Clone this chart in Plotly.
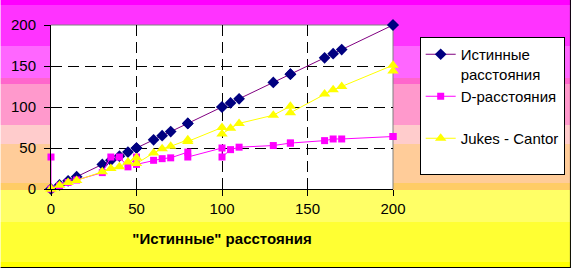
import plotly.graph_objects as go

# ---- data ----
x_vals = [0, 0, 5, 10, 15, 30, 35, 40, 45, 50, 50, 60, 65, 70, 80, 80, 100, 100,
          105, 110, 130, 140, 140, 160, 165, 170, 200, 200]
y_true = [0, 0, 5, 10, 15, 30, 35, 40, 45, 50, 50, 60, 65, 70, 80, 80, 100, 100,
          105, 110, 130, 140, 140, 160, 165, 170, 200, 200]
y_d = [39, 0, 4, 8, 11, 20, 39, 39, 27, 39, 30, 35, 37, 38, 45, 39, 50, 39,
       48, 51, 53, 56, 56, 59, 61, 61, 64, 64]
y_jc = [0, 0, 4.5, 8, 10.5, 21, 25, 27, 33, 38, 31, 44, 49, 52, 60, 58, 75, 67,
        74, 80, 90, 101, 93, 116, 121, 125, 151, 144]
tick_vals = [0, 50, 100, 150, 200]
series_names = ["Истинные<br>расстояния", "D-расстояния<br> ", "Jukes - Cantor<br> "]
x_title = '"Истинные" расстояния'

W, H = 577, 269
L, R, T, B = 51, 397, 25, 189  # plot area pixel edges

def px(xp):
    return (xp - L) / (R - L)

def py(yp):
    return (B - yp) / (B - T)

FONT = "Arial, Liberation Sans, sans-serif"

fig = go.Figure()
fig.add_trace(go.Scatter(
    x=x_vals, y=y_true, name=series_names[0], mode="lines+markers",
    line=dict(color="#800080", width=1),
    marker=dict(symbol="diamond", size=9, color="#000080"),
    cliponaxis=False))
fig.add_trace(go.Scatter(
    x=x_vals, y=y_d, name=series_names[1], mode="lines+markers",
    line=dict(color="#FF00FF", width=1),
    marker=dict(symbol="square", size=7, color="#FF00FF"),
    cliponaxis=False))
fig.add_trace(go.Scatter(
    x=x_vals, y=y_jc, name=series_names[2], mode="lines+markers",
    line=dict(color="#FFFF00", width=1),
    marker=dict(symbol="triangle-up", size=10, color="#FFFF00"),
    cliponaxis=False))

# background bands (pixel rows)
bands = [(0, 5, "#FF00FF"), (5, 46, "#FF33FF"), (46, 78, "#FF66FF"),
         (78, 84, "#FF66CC"), (84, 125, "#FF99CC"), (125, 144, "#FFCCCC"),
         (144, 183, "#FFCC99"), (183, 190, "#FFCC66"), (190, 222, "#FFFF66"),
         (222, 262, "#FFFF33"), (262, 267, "#FFFF00")]
shapes = []
for y0, y1, c in bands:
    shapes.append(dict(type="rect", xref="paper", yref="paper",
                       x0=px(0), x1=px(577), y0=py(y1), y1=py(y0),
                       fillcolor=c, line=dict(width=0), layer="below"))
# plot area
shapes.append(dict(type="rect", xref="paper", yref="paper", x0=0, x1=1, y0=0, y1=1,
                   fillcolor="white", line=dict(width=0), layer="below"))
# gray top / right plot border above gridlines, below traces
shapes.append(dict(type="line", xref="paper", yref="paper", x0=0, x1=1, y0=1, y1=1,
                   line=dict(color="#808080", width=1), layer="between"))
shapes.append(dict(type="line", xref="paper", yref="paper", x0=1, x1=1, y0=0, y1=1,
                   line=dict(color="#808080", width=1), layer="between"))
# outer border bottom / right
shapes.append(dict(type="line", xref="paper", yref="paper",
                   x0=px(0), x1=px(577), y0=py(267.5), y1=py(267.5),
                   line=dict(color="black", width=1), layer="below"))
shapes.append(dict(type="line", xref="paper", yref="paper",
                   x0=px(576.5), x1=px(576.5), y0=py(0), y1=py(267.5),
                   line=dict(color="black", width=1), layer="below"))

axis_common = dict(
    range=[0, 200], tickvals=tick_vals, showline=True, linecolor="black", linewidth=1,
    ticks="outside", ticklen=6, tickcolor="black", tickwidth=1,
    showgrid=True, gridcolor="black", gridwidth=1, griddash="11px,6px",
    zeroline=False, tickfont=dict(family=FONT, size=15, color="black"),
)

fig.update_layout(
    width=W, height=H,
    margin=dict(l=L, r=W - R, t=T, b=H - B, pad=0),
    paper_bgcolor="white", plot_bgcolor="white",
    shapes=shapes,
    xaxis=dict(**axis_common,
               title=dict(text=x_title, font=dict(family=FONT, size=15, color="black", weight="bold"),
                          standoff=17)),
    yaxis=dict(**axis_common, ticklabelstandoff=5),
    legend=dict(x=px(424), y=py(37), xanchor="left", yanchor="top",
                bgcolor="white", bordercolor="black", borderwidth=1,
                font=dict(family=FONT, size=15, color="black"),
                valign="top", tracegroupgap=0),
    showlegend=True,
)

fig.write_html("out.html")
